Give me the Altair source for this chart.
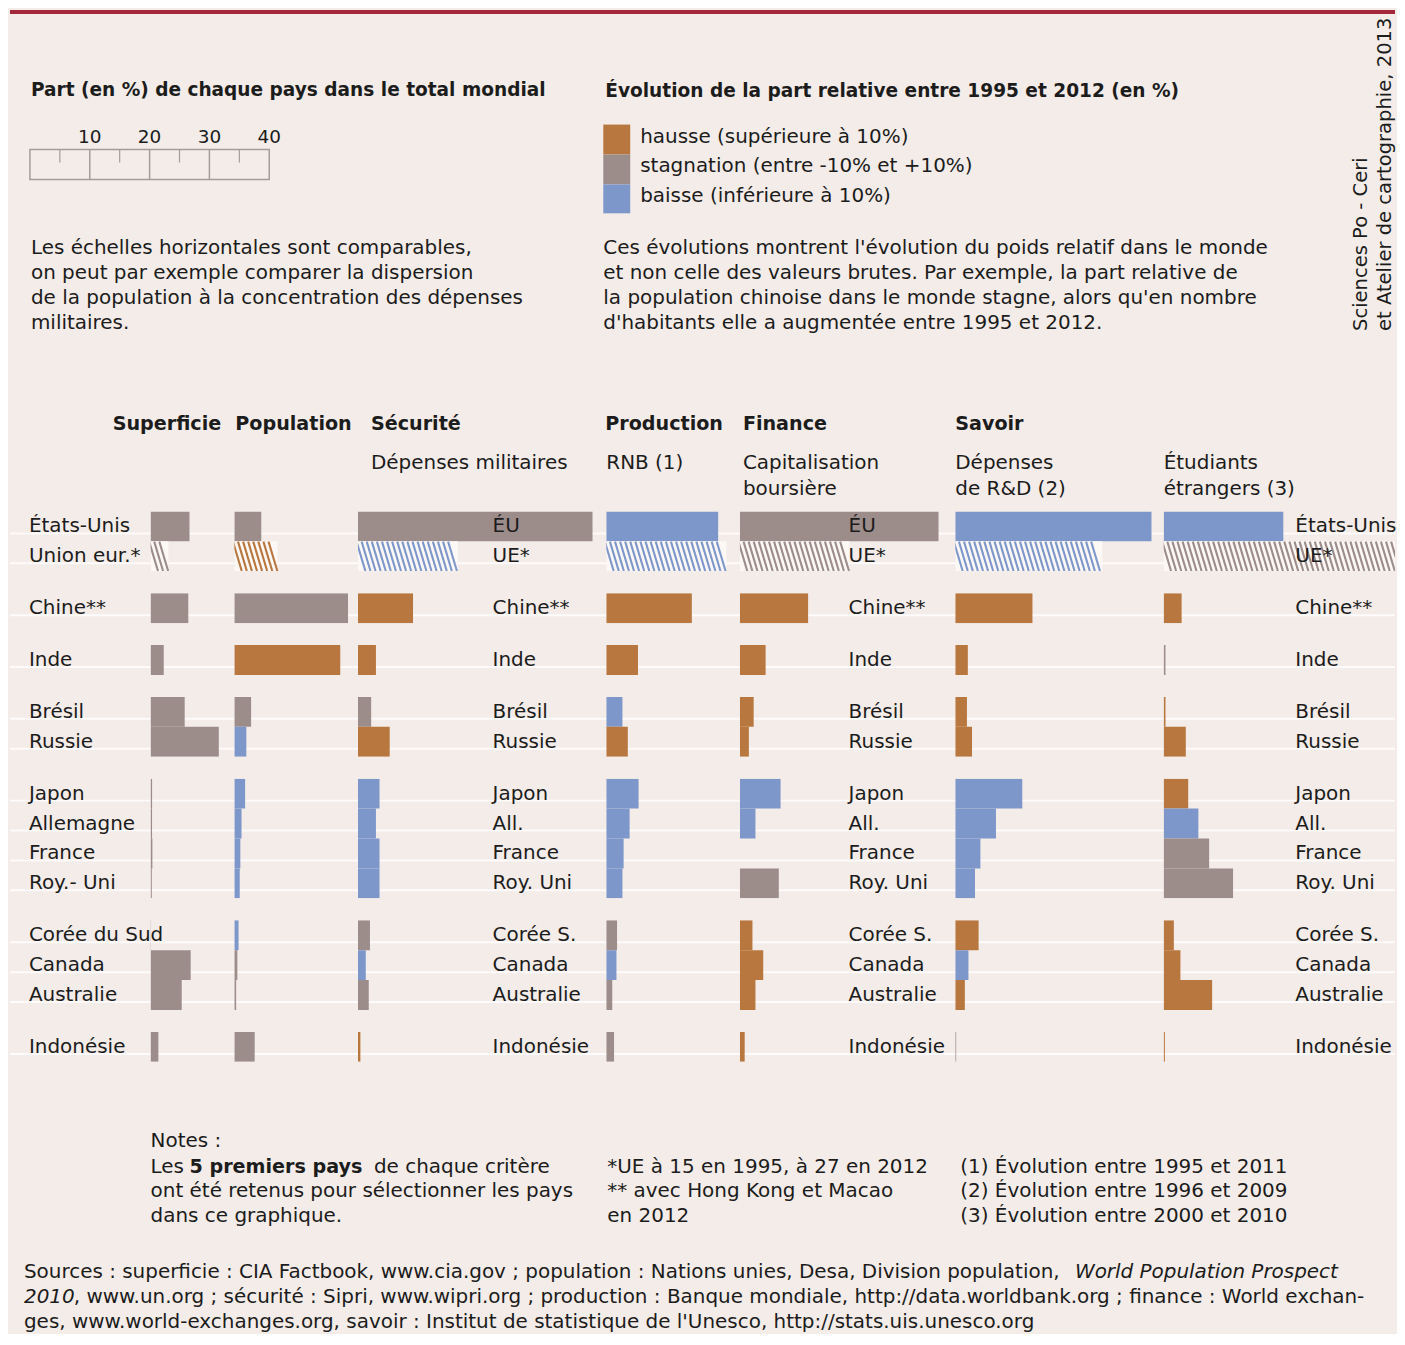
import altair as alt
import pandas as pd

FONT = "DejaVu Sans"
BG = "#f4ece8"
TXT = "#1c1c1c"
C_H, C_S, C_B = "#b8773e", "#9c8c8a", "#7e97ca"
HATCH_BG = "#fbf8f6"
CAT_NAMES = {"h": "hausse", "s": "stagnation", "b": "baisse"}

# ---------------- data ----------------
countries = ["États-Unis", "Union eur.*", "Chine**", "Inde", "Brésil", "Russie",
             "Japon", "Allemagne", "France", "Roy.- Uni",
             "Corée du Sud", "Canada", "Australie", "Indonésie"]
groups = [1, 1, 2, 3, 4, 4, 5, 5, 5, 5, 6, 6, 6, 7]
hatched = [0, 1, 0, 0, 0, 0, 0, 0, 0, 0, 0, 0, 0, 0]
label_mid = ["ÉU", "UE*", "Chine**", "Inde", "Brésil", "Russie", "Japon", "All.",
             "France", "Roy. Uni", "Corée S.", "Canada", "Australie", "Indonésie"]
label_right = ["États-Unis", "UE*", "Chine**", "Inde", "Brésil", "Russie", "Japon", "All.",
               "France", "Roy. Uni", "Corée S.", "Canada", "Australie", "Indonésie"]

superficie = [6.5, 3.0, 6.3, 2.2, 5.7, 11.4, 0.25, 0.24, 0.3, 0.2, 0.07, 6.7, 5.2, 1.3]
superficie_cat = ["s", "s", "s", "s", "s", "s", "s", "s", "s", "s", "s", "s", "s", "s"]

population = [4.5, 7.2, 19.0, 17.7, 2.8, 2.0, 1.8, 1.2, 1.0, 0.9, 0.7, 0.5, 0.3, 3.4]
population_cat = ["s", "h", "s", "h", "s", "b", "b", "b", "b", "b", "b", "s", "s", "s"]

securite = [39.2, 16.7, 9.2, 3.0, 2.2, 5.3, 3.6, 3.0, 3.6, 3.6, 2.0, 1.3, 1.8, 0.4]
securite_cat = ["s", "b", "h", "h", "s", "h", "b", "b", "b", "b", "s", "b", "s", "h"]

production = [18.7, 20.1, 14.3, 5.3, 2.7, 3.6, 5.4, 3.9, 2.9, 2.7, 1.8, 1.7, 1.0, 1.3]
production_cat = ["b", "b", "h", "h", "b", "h", "b", "b", "b", "b", "s", "b", "s", "s"]

finance = [33.2, 18.3, 11.4, 4.3, 2.3, 1.5, 6.8, 2.6, 0.0, 6.5, 2.1, 3.9, 2.6, 0.8]
finance_cat = ["s", "s", "h", "h", "h", "h", "b", "b", "s", "s", "h", "h", "h", "h"]

savoir = [32.8, 24.6, 12.9, 2.1, 1.95, 2.8, 11.2, 6.8, 4.2, 3.3, 3.9, 2.2, 1.6, 0.15]
savoir_cat = ["b", "b", "h", "h", "h", "h", "b", "b", "b", "b", "h", "b", "h", "s"]

etudiants = [20.0, 42.0, 3.0, 0.3, 0.3, 3.7, 4.1, 5.8, 7.6, 11.6, 1.7, 2.8, 8.1, 0.2]
etudiants_cat = ["b", "s", "h", "s", "h", "h", "h", "b", "s", "s", "h", "h", "h", "h"]

ruler_major = [10, 20, 30]
ruler_minor = [5, 15, 25, 35]
ruler_labels = [10, 20, 30, 40]

PX_PER_PCT = 6.0
TOTAL_W = 1389
ROW = 30
GAP = 22
LABEL_SIZE = 20

color_def = alt.Color("cat:N", legend=None,
                      scale=alt.Scale(domain=["hausse", "stagnation", "baisse"],
                                      range=[C_H, C_S, C_B]))


def full_df(values, cats, labels):
    return pd.DataFrame({
        "country": countries,
        "group": groups,
        "value": values,
        "cat": [CAT_NAMES[c] for c in cats],
        "hatch": hatched,
        "label": labels,
    })


def ydef(dom):
    return alt.Y("country:N", axis=None,
                 scale=alt.Scale(domain=dom, paddingInner=0, paddingOuter=0))


def cell(df_all, g, width, kind, label_x=None):
    df = df_all[df_all["group"] == g].reset_index(drop=True)
    dom = list(df["country"])
    h = ROW * len(dom)
    layers = [
        alt.Chart(df).mark_rule(color="white", strokeWidth=2, opacity=0.8, yOffset=7).encode(
            y=ydef(dom), x=alt.value(0), x2=alt.value(width))
    ]
    if kind == "data":
        xs = alt.Scale(domain=[0, width / PX_PER_PCT])
        solid = df[df["hatch"] == 0]
        hat = df[df["hatch"] == 1]
        if len(solid):
            layers.append(alt.Chart(solid).mark_bar(clip=True).encode(
                x=alt.X("value:Q", axis=None, scale=xs), y=ydef(dom), color=color_def))
        if len(hat):
            layers.append(alt.Chart(hat).mark_bar(clip=True, color=HATCH_BG).encode(
                x=alt.X("value:Q", axis=None, scale=xs), y=ydef(dom)))
            layers.append(alt.Chart(hat).mark_point(
                shape="M-0.3,-1L0.3,1", size=870, filled=False, strokeWidth=2.1,
                opacity=1, clip=True
            ).encode(
                x=alt.X("s:Q", axis=None, scale=xs), y=ydef(dom), color=color_def
            ).transform_calculate(
                s="sequence(0.5, datum.value - 0.35, 0.85)"
            ).transform_flatten(["s"]))
    if label_x is not None:
        layers.append(alt.Chart(df).mark_text(
            align="left", baseline="middle", font=FONT, fontSize=LABEL_SIZE, color=TXT
        ).encode(x=alt.value(label_x), y=ydef(dom), text="label:N"))
    return alt.layer(*layers).properties(width=width, height=h)


panels = [
    (full_df(superficie, superficie_cat, countries), 141, "label", 19),
    (full_df(superficie, superficie_cat, countries), 84, "data", None),
    (full_df(population, population_cat, countries), 124, "data", None),
    (full_df(securite, securite_cat, label_mid), 249, "data", 135),
    (full_df(production, production_cat, countries), 134, "data", None),
    (full_df(finance, finance_cat, label_mid), 216, "data", 109),
    (full_df(savoir, savoir_cat, countries), 209, "data", None),
    (full_df(etudiants, etudiants_cat, label_right), 232, "data", 132),
]

group_ids = sorted(set(groups))
rows = []
for g in group_ids:
    rows.append(alt.hconcat(*[cell(df, g, w, k, lx) for (df, w, k, lx) in panels],
                            spacing=0, bounds="flush"))
main = alt.vconcat(*rows, spacing=GAP)

# ---------------- header ----------------
dummy = pd.DataFrame({"d": [0]})


def T(s, x, y, size=20, weight="normal", style="normal", angle=0, align="left", lh=25):
    kw = dict(align=align, baseline="middle", font=FONT, fontSize=size,
              fontWeight=weight, fontStyle=style, color=TXT, lineHeight=lh)
    if angle:
        kw["angle"] = angle
    return alt.Chart(dummy).mark_text(**kw).encode(
        x=alt.value(x), y=alt.value(y), text=alt.value(s))


def R(x, x2, y, y2, color):
    return alt.Chart(dummy).mark_rect(color=color).encode(
        x=alt.value(x), x2=alt.value(x2), y=alt.value(y), y2=alt.value(y2))


ruler_scale = alt.Scale(domain=[-20 / PX_PER_PCT, (TOTAL_W - 20) / PX_PER_PCT])
RULER_C = "#a59c99"
ruler_box = alt.Chart(pd.DataFrame({"a": [0], "b": [40]})).mark_rect(
    fillOpacity=0, stroke=RULER_C, strokeWidth=1.5
).encode(x=alt.X("a:Q", scale=ruler_scale, axis=None), x2="b:Q",
         y=alt.value(140), y2=alt.value(170))
ruler_maj = alt.Chart(pd.DataFrame({"t": ruler_major})).mark_rule(
    color=RULER_C, strokeWidth=1.5
).encode(x=alt.X("t:Q", scale=ruler_scale, axis=None), y=alt.value(140), y2=alt.value(170))
ruler_min = alt.Chart(pd.DataFrame({"t": ruler_minor})).mark_rule(
    color=RULER_C, strokeWidth=1.2
).encode(x=alt.X("t:Q", scale=ruler_scale, axis=None), y=alt.value(140), y2=alt.value(153))
ruler_lab = alt.Chart(pd.DataFrame({"t": ruler_labels})).mark_text(
    font=FONT, fontSize=18.5, color=TXT, baseline="middle", align="center"
).encode(x=alt.X("t:Q", scale=ruler_scale, axis=None), y=alt.value(127), text="t:Q")

BT = 18.6   # bold titles
BH = 19.2   # bold column headers
header_layers = [
    alt.Chart(dummy).mark_rule(color="#a3283b", strokeWidth=4).encode(
        x=alt.value(0), x2=alt.value(TOTAL_W), y=alt.value(2)),
    T("Part (en %) de chaque pays dans le total mondial", 21, 80, size=BT, weight="bold"),
    ruler_box, ruler_maj, ruler_min, ruler_lab,
    T("Évolution de la part relative entre 1995 et 2012 (en %)", 597, 81, size=BT, weight="bold"),
    R(595, 622, 115, 145, C_H), R(595, 622, 145, 175, C_S), R(595, 622, 175, 204, C_B),
    T("hausse (supérieure à 10%)", 632, 127),
    T("stagnation (entre -10% et +10%)", 632, 157),
    T("baisse (inférieure à 10%)", 632, 187),
    T(["Les échelles horizontales sont comparables,",
       "on peut par exemple comparer la dispersion",
       "de la population à la concentration des dépenses",
       "militaires."], 21, 239),
    T(["Ces évolutions montrent l'évolution du poids relatif dans le monde",
       "et non celle des valeurs brutes. Par exemple, la part relative de",
       "la population chinoise dans le monde stagne, alors qu'en nombre",
       "d'habitants elle a augmentée entre 1995 et 2012."], 595, 239),
    T("Sciences Po - Ceri", 1355, 322, size=19.6, angle=270),
    T("et Atelier de cartographie, 2013", 1379, 322, size=19.6, angle=270),
    T("Superficie", 103, 415, size=BH, weight="bold"),
    T("Population", 226, 415, size=BH, weight="bold"),
    T("Sécurité", 362, 415, size=BH, weight="bold"),
    T("Production", 597, 415, size=BH, weight="bold"),
    T("Finance", 735, 415, size=BH, weight="bold"),
    T("Savoir", 948, 415, size=BH, weight="bold"),
    T("Dépenses militaires", 362, 454),
    T("RNB (1)", 598, 454),
    T(["Capitalisation", "boursière"], 735, 454, lh=26),
    T(["Dépenses", "de R&D (2)"], 948, 454, lh=26),
    T(["Étudiants", "étrangers (3)"], 1157, 454, lh=26),
]
header = alt.layer(*header_layers).properties(width=TOTAL_W, height=503)

# ---------------- footer ----------------
footer_layers = [
    T("Notes :", 141, 79),
    T("Les", 141, 105),
    T("5 premiers pays", 180, 105, size=19.2, weight="bold"),
    T("de chaque critère", 365, 105),
    T(["ont été retenus pour sélectionner les pays", "dans ce graphique."], 141, 130),
    T(["*UE à 15 en 1995, à 27 en 2012", "** avec Hong Kong et Macao", "en 2012"], 599, 105),
    T(["(1) Évolution entre 1995 et 2011", "(2) Évolution entre 1996 et 2009",
       "(3) Évolution entre 2000 et 2010"], 953, 105),
    T("Sources : superficie : CIA Factbook, www.cia.gov ; population : Nations unies, Desa, Division population,",
      14, 211),
    T("World Population Prospect", 1068, 211, style="italic"),
    T("2010", 14, 236, style="italic"),
    T(", www.un.org ; sécurité : Sipri, www.wipri.org ; production : Banque mondiale, http://data.worldbank.org ; finance : World exchan-",
      64, 236),
    T("ges, www.world-exchanges.org, savoir : Institut de statistique de l'Unesco, http://stats.uis.unesco.org",
      14, 261),
]
footer = alt.layer(*footer_layers).properties(width=TOTAL_W, height=270)

chart = alt.vconcat(header, main, footer, spacing=0).properties(
    background=BG, padding=0
).configure_view(strokeWidth=0)

chart.save("out.html", embed_options={"renderer": "svg", "actions": False})
